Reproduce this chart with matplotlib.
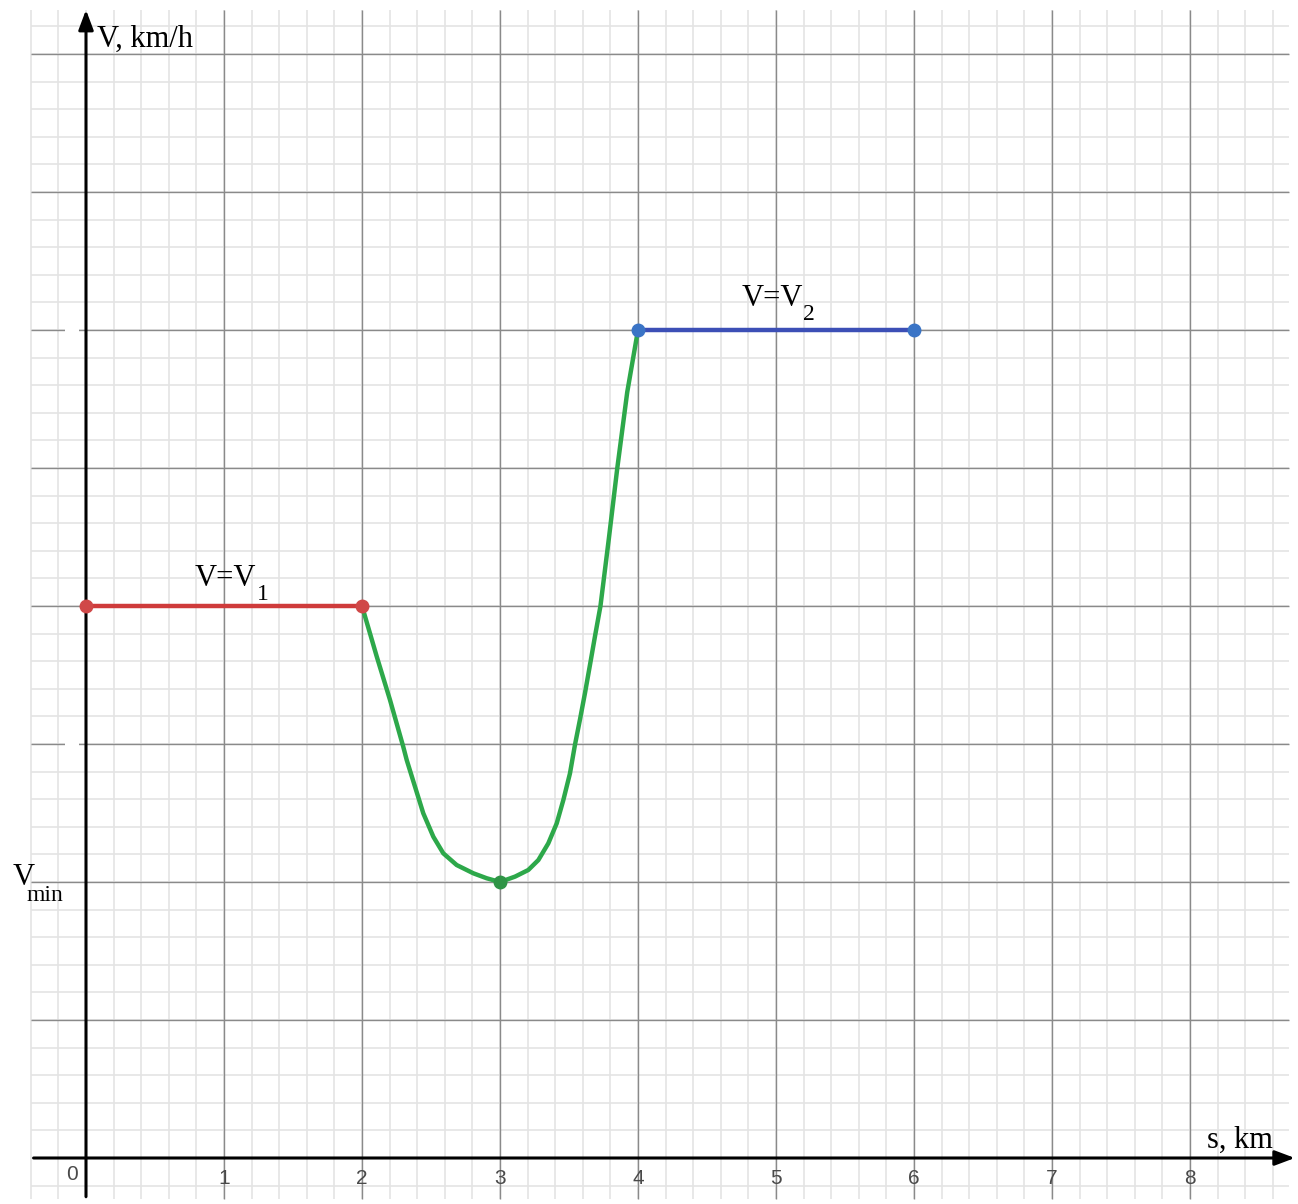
import matplotlib.pyplot as plt
import numpy as np

# segments
s_v1 = [0, 2]
v_v1 = [4, 4]
s_v2 = [4, 6]
v_v2 = [6, 6]
s_min = [3]
v_min = [2]

# green transition curve (read point by point)
s_curve = [2.0, 2.107, 2.203, 2.299, 2.324, 2.384, 2.444, 2.517, 2.589, 2.686,
           2.807, 2.904, 3.0, 3.109, 3.205, 3.278, 3.35, 3.411, 3.459, 3.507,
           3.543, 3.58, 3.616, 3.655, 3.69, 3.728, 3.789, 3.85, 3.922, 4.0]
v_curve = [4.0, 3.633, 3.319, 2.98, 2.884, 2.691, 2.498, 2.328, 2.208, 2.123,
           2.063, 2.027, 2.0, 2.039, 2.087, 2.159, 2.28, 2.425, 2.594, 2.787,
           2.993, 3.18, 3.37, 3.59, 3.79, 4.0, 4.49, 5.0, 5.55, 6.0]

x_ticks = [0, 1, 2, 3, 4, 5, 6, 7, 8]

# grid extent
x_lo, x_hi = -0.4, 8.72
y_lo, y_hi = -0.3, 8.32

fig = plt.figure(figsize=(12.98, 12.04), dpi=100)
ax = fig.add_axes([0, 0, 1, 1])
ax.set_xlim(-86 / 138, (1298 - 86) / 138)
ax.set_ylim((1158 - 1204) / 138, 1158 / 138)
ax.axis('off')

# minor grid
minor = np.arange(-0.4, 8.8, 0.2)
ax.vlines(minor[minor <= x_hi + 1e-9], y_lo, y_hi, color='#e4e4e4', lw=1.2, zorder=0)
minor_y = np.arange(-0.2, 8.4, 0.2)
ax.hlines(minor_y[minor_y <= y_hi + 1e-9], x_lo, x_hi, color='#e4e4e4', lw=1.2, zorder=0)
# major grid
ax.vlines(range(1, 9), y_lo, y_hi, color='#8a8a8a', lw=1.0, zorder=1)
ax.hlines(range(1, 9), x_lo, x_hi, color='#8a8a8a', lw=1.0, zorder=1)
# small gaps left of the y axis
ax.hlines([3, 6], -0.15, -0.05, color='white', lw=3, zorder=1.5)

# axes with arrows
ax.annotate('', xy=(8.78, 0), xytext=(x_lo, 0),
            arrowprops=dict(arrowstyle='-|>,head_length=1.2,head_width=0.45', color='black', lw=2.2),
            zorder=3)
ax.annotate('', xy=(0, 8.34), xytext=(0, y_lo),
            arrowprops=dict(arrowstyle='-|>,head_length=1.2,head_width=0.45', color='black', lw=2.2),
            zorder=3)

# tick labels
for t in x_ticks:
    xpos = -0.1 if t == 0 else t
    ypos = -0.12 if t == 0 else -0.145
    ax.text(xpos, ypos, str(t), ha='center', va='center', fontsize=15,
            color='#4a4a4a', family='Liberation Sans', zorder=4)

# curves
ax.plot(s_curve, v_curve, color='#2da84a', lw=3.2, zorder=5,
        solid_capstyle='round', solid_joinstyle='round')
ax.plot(s_v1, v_v1, color='#cf3b3b', lw=3.2, zorder=5)
ax.plot(s_v2, v_v2, color='#3c4fb6', lw=3.2, zorder=5)
ax.plot(s_v1, v_v1, 'o', color='#d04848', ms=9, zorder=6)
ax.plot(s_v2, v_v2, 'o', color='#3a74c6', ms=9, zorder=6)
ax.plot(s_min, v_min, 'o', color='#2f9446', ms=9, zorder=6)

# labels (subscripts drawn as separate, lowered text)
serif = 'Liberation Serif'
big = 22
small = 17
ax.text(0.08, 8.05, 'V, km/h', ha='left', va='baseline', fontsize=big, family=serif, zorder=7)
ax.text(8.12, 0.072, 's, km', ha='left', va='baseline', fontsize=big, family=serif, zorder=7)
ax.text(0.79, 4.145, 'V=V', ha='left', va='baseline', fontsize=big, family=serif, zorder=7)
ax.text(1.235, 4.04, '1', ha='left', va='baseline', fontsize=small, family=serif, zorder=7)
ax.text(4.75, 6.174, 'V=V', ha='left', va='baseline', fontsize=big, family=serif, zorder=7)
ax.text(5.195, 6.07, '2', ha='left', va='baseline', fontsize=small, family=serif, zorder=7)
ax.text(-0.53, 1.98, 'V', ha='left', va='baseline', fontsize=big, family=serif, zorder=7)
ax.text(-0.43, 1.86, 'min', ha='left', va='baseline', fontsize=small, family=serif, zorder=7)

plt.savefig('out.png', dpi=100)
